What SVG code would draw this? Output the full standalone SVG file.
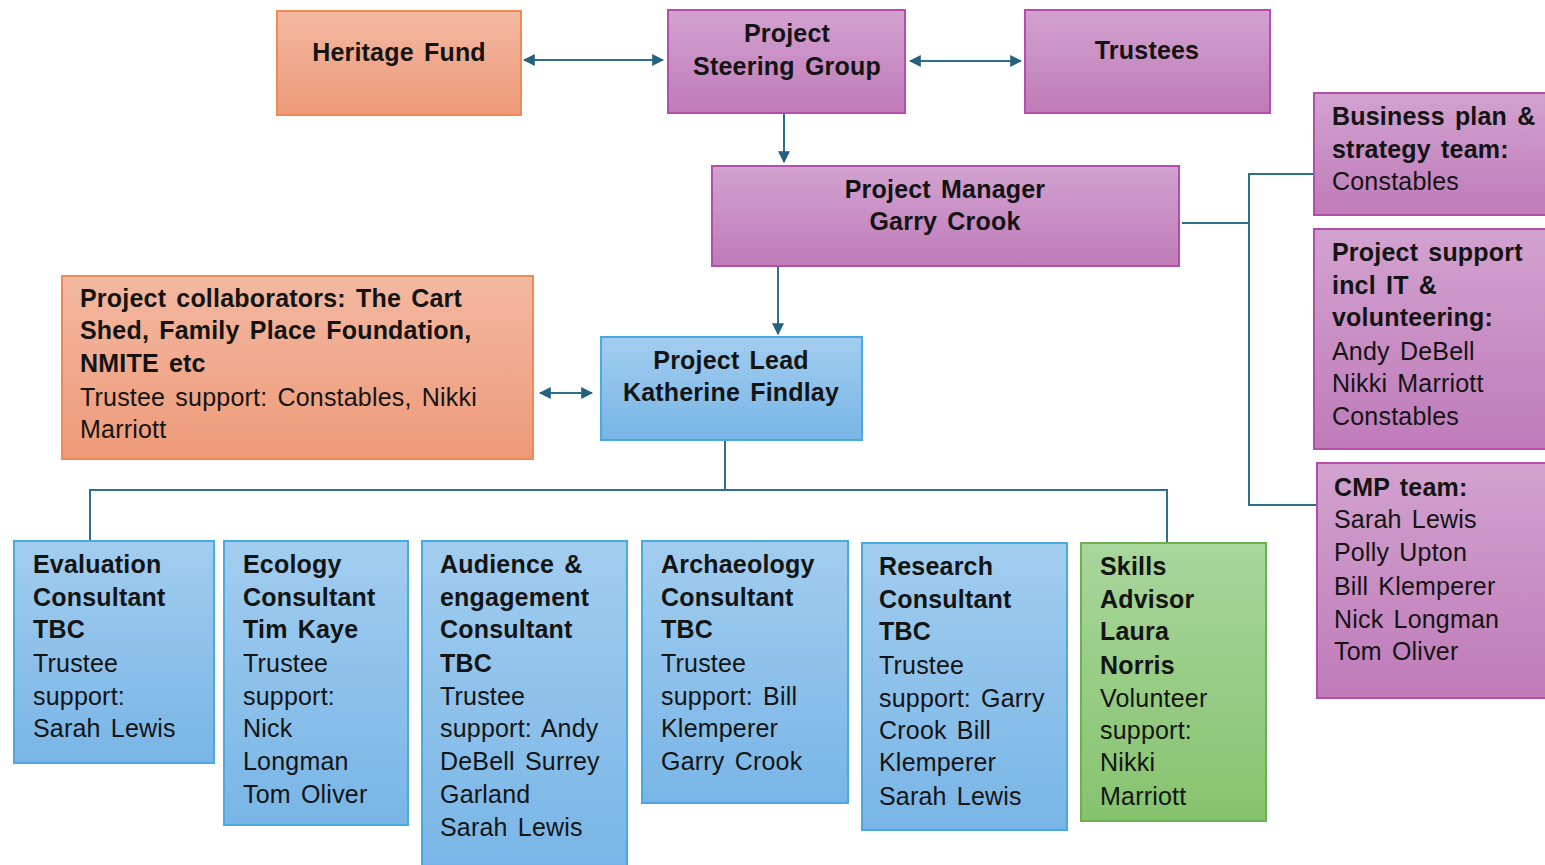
<svg xmlns="http://www.w3.org/2000/svg" width="1545" height="865" viewBox="0 0 1545 865">
<style>
text{font-family:"Liberation Sans",Arial,sans-serif;font-size:25px;fill:#141414;letter-spacing:0.2px;word-spacing:3px}
.b{font-weight:bold}
.c{text-anchor:middle}
.or{fill:url(#gO);stroke:#ef8a55;stroke-width:2}
.pu{fill:url(#gP);stroke:#b64cab;stroke-width:2}
.bl{fill:url(#gB);stroke:#4aa9e0;stroke-width:2}
.gr{fill:url(#gG);stroke:#6bb24e;stroke-width:2}
.ln{fill:none;stroke:#2e6f8e;stroke-width:2}
.ar{marker-end:url(#ah);marker-start:url(#ah)}
.ae{marker-end:url(#ah)}
</style>
<defs>
<linearGradient id="gO" x1="0" y1="0" x2="0" y2="1"><stop offset="0" stop-color="#f3b8a1"/><stop offset="1" stop-color="#ee9a79"/></linearGradient>
<linearGradient id="gP" x1="0" y1="0" x2="0" y2="1"><stop offset="0" stop-color="#d2a2cf"/><stop offset="1" stop-color="#bf7bb9"/></linearGradient>
<linearGradient id="gB" x1="0" y1="0" x2="0" y2="1"><stop offset="0" stop-color="#a2cdef"/><stop offset="1" stop-color="#78b5e6"/></linearGradient>
<linearGradient id="gG" x1="0" y1="0" x2="0" y2="1"><stop offset="0" stop-color="#a9d69c"/><stop offset="1" stop-color="#86c36e"/></linearGradient>
<marker id="ah" viewBox="0 0 10 10" refX="9" refY="5" markerWidth="6" markerHeight="6" orient="auto-start-reverse"><path d="M0,0 L10,5 L0,10 z" fill="#23617f"/></marker>
</defs>
<rect width="1545" height="865" fill="#ffffff"/>
<g id="connectors">
<line class="ln ar" x1="524" y1="60" x2="663" y2="60"/>
<line class="ln ar" x1="910" y1="61" x2="1021" y2="61"/>
<line class="ln ae" x1="784" y1="114" x2="784" y2="162"/>
<line class="ln ae" x1="778" y1="267" x2="778" y2="334"/>
<line class="ln ar" x1="540" y1="393" x2="592" y2="393"/>
<polyline class="ln" points="1182,223 1249,223"/>
<polyline class="ln" points="1316,174 1249,174 1249,505 1317,505"/>
<polyline class="ln" points="725,441 725,490"/>
<polyline class="ln" points="90,541 90,490 1167,490 1167,542"/>
</g>
<g id="heritage"><rect class="or" x="277" y="11" width="244" height="104"/><text class="b c" x="399" y="61">Heritage Fund</text></g>
<g id="steering"><rect class="pu" x="668" y="10" width="237" height="103"/><text class="b c" x="787" y="42">Project</text><text class="b c" x="787" y="75">Steering Group</text></g>
<g id="trustees"><rect class="pu" x="1025" y="10" width="245" height="103"/><text class="b c" x="1147" y="59">Trustees</text></g>
<g id="manager"><rect class="pu" x="712" y="166" width="467" height="100"/><text class="b c" x="945" y="198">Project Manager</text><text class="b c" x="945" y="230">Garry Crook</text></g>
<g id="collaborators"><rect class="or" x="62" y="276" width="471" height="183"/>
<text class="b" x="80" y="307">Project collaborators:  The Cart</text>
<text class="b" x="80" y="339">Shed, Family Place Foundation,</text>
<text class="b" x="80" y="372">NMITE etc</text>
<text x="80" y="406">Trustee support:  Constables, Nikki</text>
<text x="80" y="438">Marriott</text></g>
<g id="lead"><rect class="bl" x="601" y="337" width="261" height="103"/><text class="b c" x="731" y="369">Project Lead</text><text class="b c" x="731" y="401">Katherine Findlay</text></g>
<g id="business"><rect class="pu" x="1314" y="93" width="240" height="122"/>
<text class="b" x="1332" y="125">Business plan &amp;</text><text class="b" x="1332" y="158">strategy team:</text><text x="1332" y="190">Constables</text></g>
<g id="support"><rect class="pu" x="1314" y="229" width="240" height="220"/>
<text class="b" x="1332" y="261">Project support</text><text class="b" x="1332" y="294">incl IT &amp;</text><text class="b" x="1332" y="326">volunteering:</text>
<text x="1332" y="360">Andy DeBell</text><text x="1332" y="392">Nikki Marriott</text><text x="1332" y="425">Constables</text></g>
<g id="cmp"><rect class="pu" x="1317" y="463" width="237" height="235"/>
<text class="b" x="1334" y="496">CMP team:</text><text x="1334" y="528">Sarah Lewis</text><text x="1334" y="561">Polly Upton</text><text x="1334" y="595">Bill Klemperer</text><text x="1334" y="628">Nick Longman</text><text x="1334" y="660">Tom Oliver</text></g>
<g id="evaluation"><rect class="bl" x="14" y="541" width="200" height="222"/>
<text class="b" x="33" y="573">Evaluation</text><text class="b" x="33" y="606">Consultant</text><text class="b" x="33" y="638">TBC</text>
<text x="33" y="672">Trustee</text><text x="33" y="705">support:</text><text x="33" y="737">Sarah Lewis</text></g>
<g id="ecology"><rect class="bl" x="224" y="541" width="184" height="284"/>
<text class="b" x="243" y="573">Ecology</text><text class="b" x="243" y="606">Consultant</text><text class="b" x="243" y="638">Tim Kaye</text>
<text x="243" y="672">Trustee</text><text x="243" y="705">support:</text><text x="243" y="737">Nick</text><text x="243" y="770">Longman</text><text x="243" y="803">Tom Oliver</text></g>
<g id="audience"><rect class="bl" x="422" y="541" width="205" height="330"/>
<text class="b" x="440" y="573">Audience &amp;</text><text class="b" x="440" y="606">engagement</text><text class="b" x="440" y="638">Consultant</text><text class="b" x="440" y="672">TBC</text>
<text x="440" y="705">Trustee</text><text x="440" y="737">support: Andy</text><text x="440" y="770">DeBell Surrey</text><text x="440" y="803">Garland</text><text x="440" y="836">Sarah Lewis</text></g>
<g id="archaeology"><rect class="bl" x="642" y="541" width="206" height="262"/>
<text class="b" x="661" y="573">Archaeology</text><text class="b" x="661" y="606">Consultant</text><text class="b" x="661" y="638">TBC</text>
<text x="661" y="672">Trustee</text><text x="661" y="705">support: Bill</text><text x="661" y="737">Klemperer</text><text x="661" y="770">Garry Crook</text></g>
<g id="research"><rect class="bl" x="862" y="543" width="205" height="287"/>
<text class="b" x="879" y="575">Research</text><text class="b" x="879" y="608">Consultant</text><text class="b" x="879" y="640">TBC</text>
<text x="879" y="674">Trustee</text><text x="879" y="707">support: Garry</text><text x="879" y="739">Crook Bill</text><text x="879" y="771">Klemperer</text><text x="879" y="805">Sarah Lewis</text></g>
<g id="skills"><rect class="gr" x="1081" y="543" width="185" height="278"/>
<text class="b" x="1100" y="575">Skills</text><text class="b" x="1100" y="608">Advisor</text><text class="b" x="1100" y="640">Laura</text><text class="b" x="1100" y="674">Norris</text>
<text x="1100" y="707">Volunteer</text><text x="1100" y="739">support:</text><text x="1100" y="771">Nikki</text><text x="1100" y="805">Marriott</text></g>
</svg>
